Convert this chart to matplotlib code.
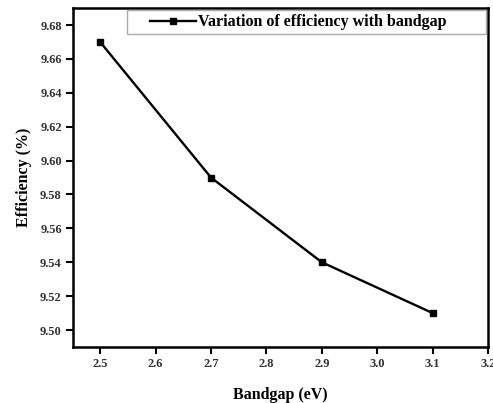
import matplotlib
matplotlib.use("Agg")
import matplotlib.pyplot as plt
from matplotlib.patches import Rectangle

# bandgap vs efficiency data
bandgap = [2.5, 2.7, 2.9, 3.1]
efficiency = [9.67, 9.59, 9.54, 9.51]
xticks = [2.5, 2.6, 2.7, 2.8, 2.9, 3.0, 3.1, 3.2]
yticks = [9.50, 9.52, 9.54, 9.56, 9.58, 9.60, 9.62, 9.64, 9.66, 9.68]

plt.rcParams['font.family'] = ['Liberation Serif', 'DejaVu Serif']
plt.rcParams['font.weight'] = 'bold'

fig = plt.figure(figsize=(4.93, 4.03), dpi=100)
ax = fig.add_axes([0.148, 0.139, 0.842, 0.841])

ax.plot(bandgap, efficiency, color='black', lw=1.7, marker='s', ms=4.5,
        label='Variation of efficiency with bandgap')

ax.set_xlim(2.451, 3.2)
ax.set_ylim(9.49, 9.69)
ax.set_xticks(xticks)
ax.set_yticks(yticks)
ax.set_xticklabels([f"{v:.1f}" for v in xticks], fontsize=9, fontweight='bold', color='#333333')
ax.set_yticklabels([f"{v:.2f}" for v in yticks], fontsize=9, fontweight='bold', color='#333333')
ax.tick_params(direction='out', length=5, width=1.5, pad=3, top=False, right=False)

for s in ax.spines.values():
    s.set_linewidth(1.8)

ax.set_xlabel('Bandgap (eV)', fontsize=11.5, fontweight='bold', labelpad=12)
ax.set_ylabel('Efficiency (%)', fontsize=11.5, fontweight='bold', labelpad=6)

# legend frame drawn separately so it can stretch to the right spine
ax.add_patch(Rectangle((0.130, 0.923), 0.866, 0.071, transform=ax.transAxes,
                       facecolor='white', edgecolor='#aaaaaa', lw=1.0, zorder=4))
leg = ax.legend(loc='center left', bbox_to_anchor=(0.185, 0.958),
                prop={'weight': 'bold', 'size': 11.5}, frameon=False,
                borderpad=0, handlelength=2.9, handletextpad=0.1, borderaxespad=0)
leg.set_zorder(5)

fig.savefig('out.png', dpi=100)
